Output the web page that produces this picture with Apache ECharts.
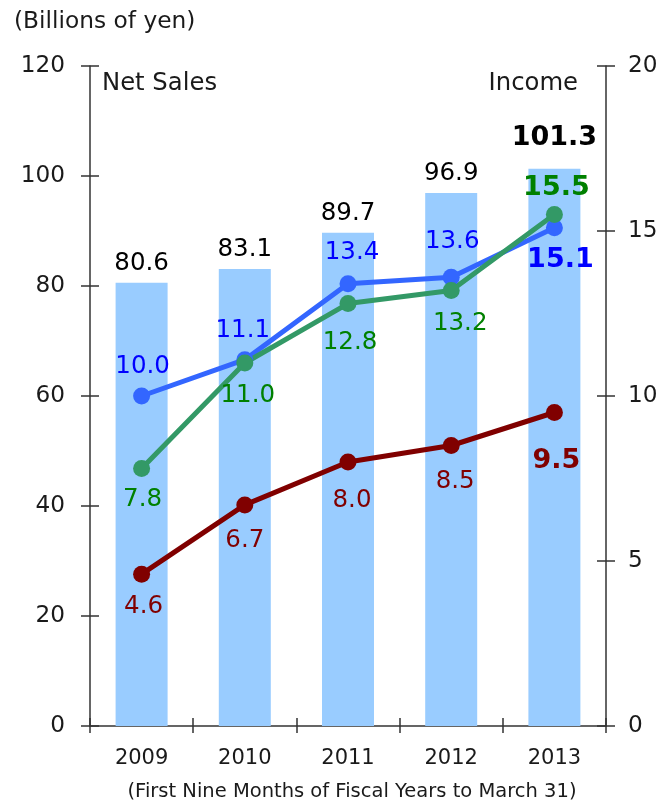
<!DOCTYPE html>
<html>
<head>
<meta charset="utf-8">
<script src="https://cdn.jsdelivr.net/npm/echarts@6/dist/echarts.min.js"></script>
<style>
  html, body { margin: 0; padding: 0; background: #ffffff; }
  #chart { width: 662px; height: 803px; }
</style>
</head>
<body>
<div id="chart"></div>
<script>
// Fiscal years (first nine months, years to March 31)
const years = ['2009', '2010', '2011', '2012', '2013'];

// Net sales, billions of yen (left axis)
const netSales = [80.6, 83.1, 89.7, 96.9, 101.3];

// Income lines, billions of yen (right axis)
const operatingIncome = [10.0, 11.1, 13.4, 13.6, 15.1];
const ordinaryIncome = [7.8, 11.0, 12.8, 13.2, 15.5];
const netIncome = [4.6, 6.7, 8.0, 8.5, 9.5];

// Axis tick values
const salesTicks = [0, 20, 40, 60, 80, 100, 120];
const incomeTicks = [0, 5, 10, 15, 20];

// Label placement around each marker: [dx, dy] from the marker centre
const operatingLabelOffsets = [[1, -29], [-2, -29], [4, -31], [1, -36], [6, 32]];
const ordinaryLabelOffsets = [[1, 31], [3, 33], [2, 39], [9, 33], [2, -27]];
const netLabelOffsets = [[2, 32], [0, 36], [4, 39], [4, 36], [2, 48]];

const FONT = '"DejaVu Sans", sans-serif';
const TEXT = '#1a1a1a';
const AXIS = '#333333';
const LABEL_SIZE = 24.5;
const BOLD_SIZE = 27;

function lineData(values, offsets, color) {
  const last = values.length - 1;
  return values.map((v, i) => ({
    value: v,
    label: {
      offset: offsets[i],
      fontSize: i === last ? BOLD_SIZE : LABEL_SIZE,
      fontWeight: i === last ? 'bold' : 'normal',
      color: color
    }
  }));
}

function lineSeries(name, values, offsets, lineColor, labelColor) {
  return {
    name: name,
    type: 'line',
    yAxisIndex: 1,
    data: lineData(values, offsets, labelColor),
    symbol: 'circle',
    symbolSize: 17,
    lineStyle: { width: 5, color: lineColor },
    itemStyle: { color: lineColor },
    label: {
      show: true,
      position: 'inside',
      fontFamily: FONT,
      formatter: p => p.value.toFixed(1)
    },
    emphasis: { disabled: true },
    animation: false
  };
}

const salesLast = netSales.length - 1;
const barData = netSales.map((v, i) => ({
  value: v,
  label: i === salesLast
    ? { fontSize: BOLD_SIZE, fontWeight: 'bold', distance: 17 }
    : { fontSize: LABEL_SIZE, fontWeight: 'normal', distance: 7 }
}));

const chart = echarts.init(document.getElementById('chart'), null, { renderer: 'canvas' });

const tickLabel = { fontFamily: FONT, fontSize: 23.2, color: TEXT };

chart.setOption({
  backgroundColor: '#ffffff',
  animation: false,
  grid: { left: 90, right: 56, top: 66, bottom: 77 },
  xAxis: [
    {
      type: 'category',
      data: years,
      position: 'bottom',
      axisLine: { show: true, lineStyle: { color: AXIS, width: 1.5 } },
      axisTick: { show: true, inside: false, length: 7, alignWithLabel: false, lineStyle: { color: AXIS, width: 1.5 } },
      axisLabel: { fontFamily: FONT, fontSize: 21, color: TEXT, margin: 22 },
      splitLine: { show: false }
    },
    {
      type: 'category',
      data: years,
      position: 'bottom',
      axisLine: { show: false },
      axisTick: { show: true, inside: true, length: 8, alignWithLabel: false, lineStyle: { color: AXIS, width: 1.5 } },
      axisLabel: { show: false },
      splitLine: { show: false }
    }
  ],
  yAxis: [
    {
      type: 'value',
      position: 'left',
      min: salesTicks[0],
      max: salesTicks[salesTicks.length - 1],
      interval: salesTicks[1] - salesTicks[0],
      axisLine: { show: true, lineStyle: { color: AXIS, width: 1.5 } },
      axisTick: { show: true, inside: false, length: 9, lineStyle: { color: AXIS, width: 1.5 } },
      axisLabel: Object.assign({ margin: 25 }, tickLabel),
      splitLine: { show: false }
    },
    {
      type: 'value',
      position: 'right',
      min: incomeTicks[0],
      max: incomeTicks[incomeTicks.length - 1],
      interval: incomeTicks[1] - incomeTicks[0],
      axisLine: { show: true, lineStyle: { color: AXIS, width: 1.5 } },
      axisTick: { show: true, inside: false, length: 9, lineStyle: { color: AXIS, width: 1.5 } },
      axisLabel: Object.assign({ margin: 22 }, tickLabel),
      splitLine: { show: false }
    },
    {
      type: 'value',
      position: 'left',
      min: salesTicks[0],
      max: salesTicks[salesTicks.length - 1],
      interval: salesTicks[1] - salesTicks[0],
      axisLine: { show: false },
      axisTick: { show: true, inside: true, length: 9, lineStyle: { color: AXIS, width: 1.5 } },
      axisLabel: { show: false },
      splitLine: { show: false }
    },
    {
      type: 'value',
      position: 'right',
      min: incomeTicks[0],
      max: incomeTicks[incomeTicks.length - 1],
      interval: incomeTicks[1] - incomeTicks[0],
      axisLine: { show: false },
      axisTick: { show: true, inside: true, length: 9, lineStyle: { color: AXIS, width: 1.5 } },
      axisLabel: { show: false },
      splitLine: { show: false }
    }
  ],
  graphic: [
    {
      type: 'text', x: 14, y: 22,
      style: { text: '(Billions of yen)', font: '23.3px ' + FONT, fill: TEXT, textAlign: 'left', textVerticalAlign: 'middle' }
    },
    {
      type: 'text', x: 102, y: 84,
      style: { text: 'Net Sales', font: '24.3px ' + FONT, fill: TEXT, textAlign: 'left', textVerticalAlign: 'middle' }
    },
    {
      type: 'text', x: 578, y: 84,
      style: { text: 'Income', font: '24.3px ' + FONT, fill: TEXT, textAlign: 'right', textVerticalAlign: 'middle' }
    },
    {
      type: 'text', x: 352, y: 792,
      style: { text: '(First Nine Months of Fiscal Years to March 31)', font: '19.5px ' + FONT, fill: TEXT, textAlign: 'center', textVerticalAlign: 'middle' }
    }
  ],
  series: [
    {
      name: 'Net Sales',
      type: 'bar',
      yAxisIndex: 0,
      data: barData,
      barWidth: 52,
      itemStyle: { color: '#99ccff' },
      label: {
        show: true,
        position: 'top',
        fontFamily: FONT,
        color: '#000000',
        formatter: p => p.value.toFixed(1)
      },
      emphasis: { disabled: true }
    },
    lineSeries('Net Income', netIncome, netLabelOffsets, '#800000', '#800000'),
    lineSeries('Operating Income', operatingIncome, operatingLabelOffsets, '#3366ff', '#0000ff'),
    lineSeries('Ordinary Income', ordinaryIncome, ordinaryLabelOffsets, '#339966', '#008000')
  ]
});
</script>
</body>
</html>
